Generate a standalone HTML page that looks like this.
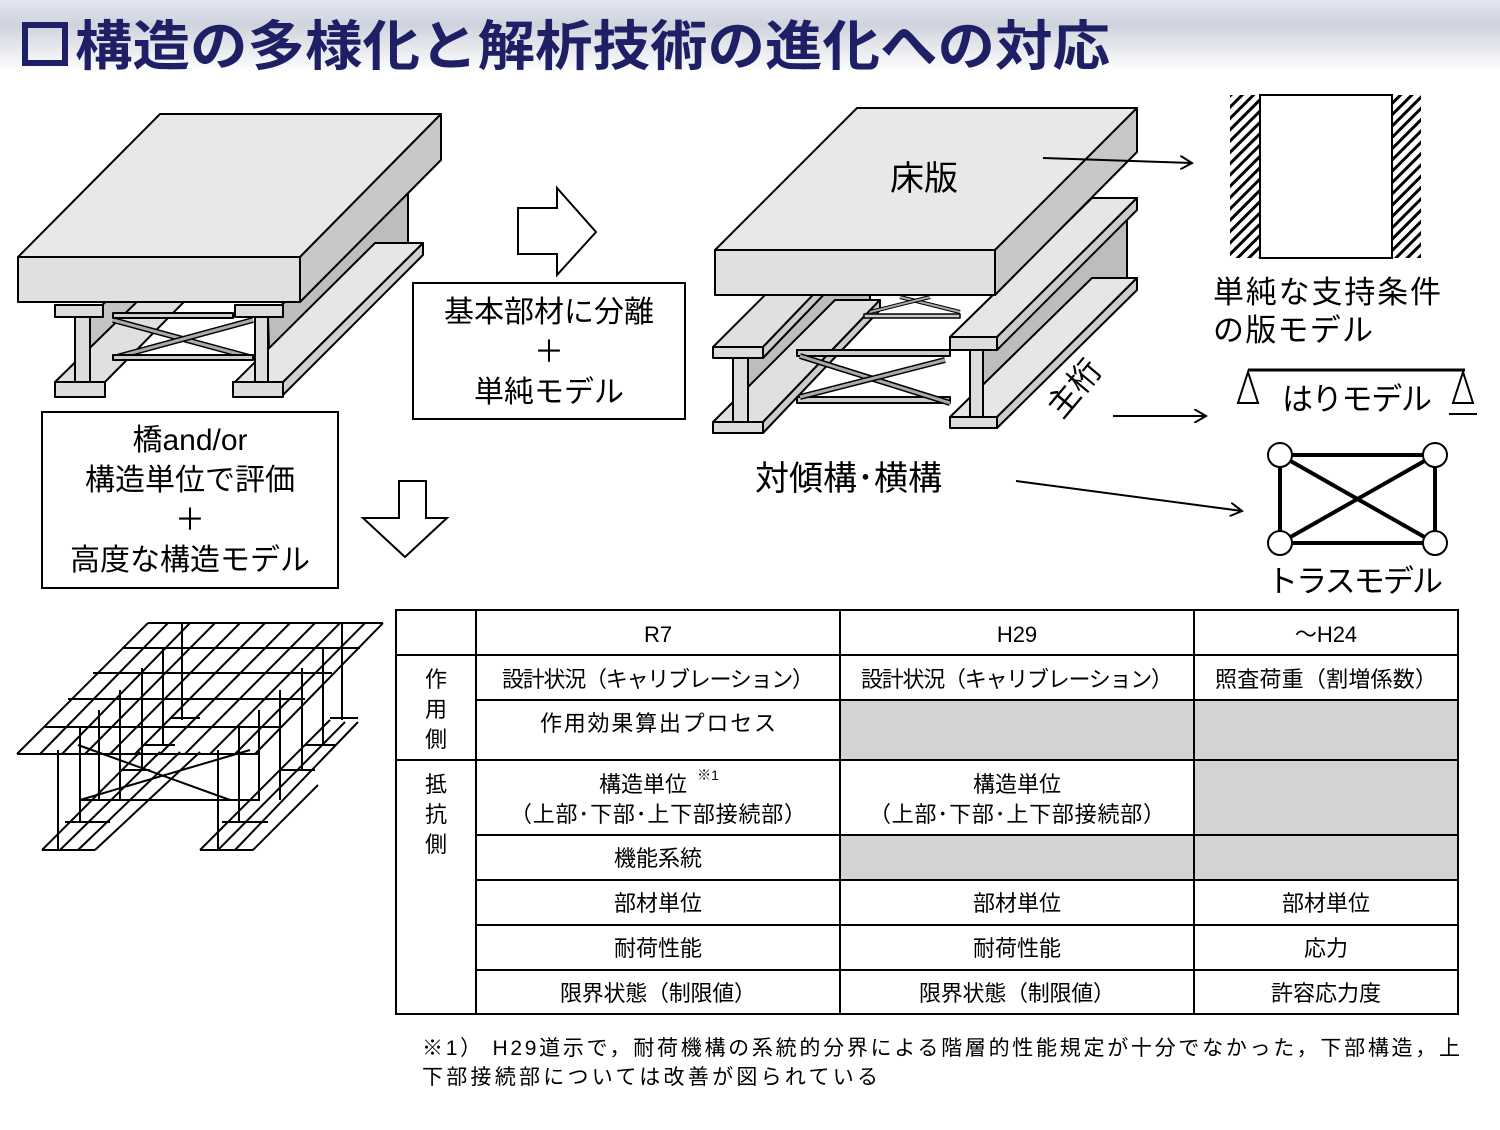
<!DOCTYPE html>
<html><head><meta charset="utf-8"><style>
body{margin:0;width:1500px;height:1125px;overflow:hidden;background:#fff;}
svg text{font-family:"Liberation Sans","Noto Sans CJK JP",sans-serif;}
</style></head><body>
<svg width="1500" height="1125" viewBox="0 0 1500 1125" xmlns="http://www.w3.org/2000/svg">
<defs>
<linearGradient id="tg" x1="0" y1="0" x2="0" y2="1">
<stop offset="0" stop-color="#e4e6f4"/><stop offset="0.35" stop-color="#cfd3dc"/><stop offset="1" stop-color="#ffffff"/></linearGradient>
<pattern id="hatch" width="8" height="8" patternUnits="userSpaceOnUse" patternTransform="rotate(45)">
<rect width="8" height="8" fill="#fff"/><rect width="3" height="8" fill="#000"/></pattern>
<marker id="ah" markerWidth="14" markerHeight="14" refX="12" refY="7" orient="auto" markerUnits="userSpaceOnUse">
<path d="M0,0 L12,7 L0,14" fill="none" stroke="#000" stroke-width="2"/></marker>
</defs>
<rect x="0" y="0" width="1500" height="72" fill="url(#tg)"/>
<rect x="25" y="25" width="40" height="38" fill="none" stroke="#1f1f66" stroke-width="6"/>
<text x="75" y="65" font-size="54" font-weight="bold" fill="#1f1f66" textLength="1035" lengthAdjust="spacingAndGlyphs">構造の多様化と解析技術の進化への対応</text>

<!-- Left bridge -->
<g stroke="#000" stroke-width="2" stroke-linejoin="round">
<polygon points="268,317 408,193 408,253 270,382" fill="#bdbdbd"/>
<polygon points="283,382 423,243 423,255 283,395" fill="#d0d0d0"/>
<polygon points="235,382 375,243 423,243 283,382" fill="#e6e6e6"/>
<polygon points="90,316 230,190 230,260 90,382" fill="#c4c4c4"/>
<polygon points="55,382 195,245 240,245 105,382" fill="#e0e0e0"/>
<rect x="55" y="382" width="50" height="15" fill="#dcdcdc"/>
<rect x="75" y="316" width="15" height="66" fill="#dcdcdc"/>
<rect x="55" y="305" width="48" height="12" fill="#dcdcdc"/>
<line x1="113" y1="320" x2="253" y2="358" stroke-width="6"/><line x1="113" y1="320" x2="253" y2="358" stroke="#aaa" stroke-width="3"/>
<line x1="113" y1="358" x2="253" y2="320" stroke-width="6"/><line x1="113" y1="358" x2="253" y2="320" stroke="#aaa" stroke-width="3"/>
<rect x="113" y="355" width="140" height="5" fill="#ccc"/>
<rect x="113" y="313" width="120" height="5" fill="#ccc"/>
<rect x="233" y="382" width="50" height="15" fill="#dcdcdc"/>
<rect x="255" y="316" width="13" height="66" fill="#dcdcdc"/>
<rect x="235" y="305" width="48" height="12" fill="#dcdcdc"/>
<polygon points="18,257 160,114 441,114 300,257" fill="#e8e8e8"/>
<rect x="18" y="257" width="282" height="45" fill="#e0e0e0"/>
<polygon points="300,257 441,114 441,160 300,302" fill="#c8c8c8"/>
</g>

<!-- Middle bridge -->
<g stroke="#000" stroke-width="2" stroke-linejoin="round">
<polygon points="748,358 870,236 870,300 748,425" fill="#bdbdbd"/>
<polygon points="713,422 835,300 880,300 763,422" fill="#e0e0e0"/>
<polygon points="763,422 880,300 880,310 763,433" fill="#ccc"/>
<polygon points="713,347 835,225 880,225 763,347" fill="#e0e0e0"/>
<polygon points="763,347 880,225 880,236 763,358" fill="#ccc"/>
<rect x="713" y="347" width="50" height="11" fill="#dcdcdc"/>
<rect x="733" y="358" width="15" height="64" fill="#dcdcdc"/>
<rect x="713" y="422" width="50" height="11" fill="#dcdcdc"/>
<rect x="864" y="314" width="96" height="4" fill="#ccc" stroke-width="1.5"/>
<line x1="900" y1="297" x2="960" y2="312" stroke-width="4"/><line x1="900" y1="297" x2="960" y2="312" stroke="#aaa" stroke-width="2"/>
<line x1="870" y1="312" x2="930" y2="297" stroke-width="4"/><line x1="870" y1="312" x2="930" y2="297" stroke="#aaa" stroke-width="2"/>
<rect x="797" y="350" width="153" height="6" fill="#ccc"/>
<rect x="797" y="397" width="153" height="6" fill="#ccc"/>
<line x1="800" y1="356" x2="950" y2="403" stroke-width="6"/><line x1="800" y1="356" x2="950" y2="403" stroke="#aaa" stroke-width="3"/>
<line x1="800" y1="397" x2="945" y2="360" stroke-width="6"/><line x1="800" y1="397" x2="945" y2="360" stroke="#aaa" stroke-width="3"/>
<polygon points="983,350 1127,213 1127,280 983,415" fill="#bdbdbd"/>
<polygon points="950,417 1092,278 1137,278 997,417" fill="#e6e6e6"/>
<polygon points="997,417 1137,278 1137,290 997,428" fill="#ccc"/>
<rect x="950" y="417" width="47" height="11" fill="#dcdcdc"/>
<rect x="970" y="350" width="13" height="67" fill="#dcdcdc"/>
<polygon points="950,337 1092,198 1137,198 997,337" fill="#e6e6e6"/>
<polygon points="997,337 1137,198 1137,210 997,350" fill="#ccc"/>
<rect x="950" y="337" width="47" height="13" fill="#dcdcdc"/>
<polygon points="715,250 857,108 1137,108 995,250" fill="#e8e8e8"/>
<rect x="715" y="250" width="280" height="45" fill="#e0e0e0"/>
<polygon points="995,250 1137,108 1137,152 995,295" fill="#c8c8c8"/>
</g>
<text x="890" y="190" font-size="34">床版</text>
<text x="0" y="0" font-size="32" transform="translate(1062,420) rotate(-50)">主桁</text>
<text x="755" y="490" font-size="34">対傾構･横構</text>

<!-- arrows -->
<g stroke="#000" stroke-width="2" fill="none">
<line x1="1043" y1="158" x2="1192" y2="163" marker-end="url(#ah)"/>
<line x1="1113" y1="416" x2="1206" y2="416" marker-end="url(#ah)"/>
<line x1="1016" y1="481" x2="1242" y2="511" marker-end="url(#ah)"/>
<polygon points="518,208 557,208 557,188 596,232 557,275 557,254 518,254" fill="#fff"/>
<polygon points="399,481 426,481 426,518 447,518 405,557 363,518 399,518" fill="#fff"/>
<rect x="413" y="283" width="272" height="136" fill="#fff"/>
<rect x="42" y="412" width="296" height="176" fill="#fff"/>
</g>
<g font-size="30" text-anchor="middle">
<text x="549" y="322">基本部材に分離</text>
<text x="549" y="362">＋</text>
<text x="549" y="402">単純モデル</text>
<text x="190" y="450">橋and/or</text>
<text x="190" y="490">構造単位で評価</text>
<text x="190" y="530">＋</text>
<text x="190" y="570">高度な構造モデル</text>
</g>

<!-- slab model -->
<rect x="1230" y="95" width="30" height="163" fill="url(#hatch)"/>
<rect x="1392" y="95" width="29" height="163" fill="url(#hatch)"/>
<rect x="1260" y="95" width="132" height="163" fill="#fff" stroke="#000" stroke-width="2"/>
<text x="1213" y="303" font-size="31" textLength="228">単純な支持条件</text>
<text x="1213" y="341" font-size="31" textLength="160">の版モデル</text>
<!-- beam -->
<g stroke="#000" fill="#fff" stroke-width="2">
<line x1="1248" y1="370" x2="1465" y2="370" stroke-width="3"/>
<polygon points="1248,372 1238,403 1258,403"/>
<polygon points="1463,372 1453,403 1473,403"/>
<line x1="1449" y1="414" x2="1477" y2="414"/>
</g>
<text x="1282" y="410" font-size="31" textLength="150">はりモデル</text>
<!-- truss -->
<g stroke="#000" stroke-width="4" fill="#fff">
<line x1="1280" y1="455" x2="1435" y2="455"/><line x1="1280" y1="543" x2="1435" y2="543"/>
<line x1="1280" y1="455" x2="1280" y2="543"/><line x1="1435" y1="455" x2="1435" y2="543"/>
<line x1="1280" y1="455" x2="1435" y2="543"/><line x1="1280" y1="543" x2="1435" y2="455"/>
<g stroke-width="2"><circle cx="1280" cy="455" r="12"/><circle cx="1435" cy="455" r="12"/><circle cx="1280" cy="543" r="12"/><circle cx="1435" cy="543" r="12"/></g>
</g>
<text x="1267" y="592" font-size="31" textLength="176">トラスモデル</text>

<!-- mesh -->
<g stroke="#000" stroke-width="2" fill="none">
<line x1="148" y1="623" x2="383" y2="623"/><line x1="122" y1="648" x2="360" y2="648"/>
<line x1="93" y1="673" x2="332" y2="673"/><line x1="68" y1="699" x2="305" y2="699"/>
<line x1="45" y1="727" x2="280" y2="727"/><line x1="17" y1="754" x2="260" y2="754"/>
<line x1="148" y1="623" x2="17" y2="754"/><line x1="168" y1="623" x2="40" y2="754"/>
<line x1="190" y1="623" x2="62" y2="754"/><line x1="215" y1="623" x2="85" y2="754"/>
<line x1="240" y1="623" x2="110" y2="754"/><line x1="265" y1="623" x2="135" y2="754"/>
<line x1="290" y1="623" x2="160" y2="754"/><line x1="315" y1="623" x2="185" y2="754"/>
<line x1="340" y1="623" x2="210" y2="754"/><line x1="365" y1="623" x2="235" y2="754"/>
<line x1="383" y1="623" x2="255" y2="754"/>
<line x1="182" y1="623" x2="182" y2="720"/><line x1="342" y1="623" x2="342" y2="720"/>
<line x1="163" y1="648" x2="163" y2="745"/><line x1="323" y1="648" x2="323" y2="745"/>
<line x1="142" y1="668" x2="142" y2="770"/><line x1="302" y1="668" x2="302" y2="770"/>
<line x1="120" y1="690" x2="120" y2="800"/><line x1="280" y1="690" x2="280" y2="800"/>
<line x1="99" y1="710" x2="99" y2="800"/><line x1="259" y1="710" x2="259" y2="800"/>
<line x1="80" y1="727" x2="80" y2="822"/><line x1="239" y1="727" x2="239" y2="822"/>
<line x1="58" y1="750" x2="58" y2="850"/><line x1="218" y1="750" x2="218" y2="850"/>
<line x1="78" y1="745" x2="230" y2="800"/><line x1="80" y1="800" x2="250" y2="750"/>
<line x1="80" y1="800" x2="260" y2="800"/>
<line x1="42" y1="850" x2="95" y2="850"/><line x1="200" y1="850" x2="253" y2="850"/>
<line x1="65" y1="822" x2="110" y2="822"/><line x1="222" y1="822" x2="268" y2="822"/>
<line x1="42" y1="850" x2="140" y2="752"/><line x1="60" y1="850" x2="160" y2="752"/><line x1="78" y1="850" x2="180" y2="752"/><line x1="95" y1="850" x2="200" y2="752"/>
<line x1="200" y1="850" x2="330" y2="720"/><line x1="218" y1="850" x2="345" y2="722"/><line x1="235" y1="850" x2="358" y2="722"/><line x1="253" y1="850" x2="318" y2="785"/>
<line x1="145" y1="745" x2="175" y2="745"/><line x1="170" y1="718" x2="200" y2="718"/>
<line x1="305" y1="745" x2="335" y2="745"/><line x1="330" y1="718" x2="358" y2="718"/>
<line x1="280" y1="770" x2="315" y2="770"/><line x1="120" y1="770" x2="150" y2="770"/>
</g>

<!-- table -->
<g fill="#d3d3d3">
<rect x="840" y="700" width="618" height="60"/>
<rect x="1194" y="760" width="264" height="75"/>
<rect x="840" y="835" width="618" height="45"/>
</g>
<g stroke="#000" stroke-width="2" fill="none">
<rect x="396" y="610" width="1062" height="404"/>
<line x1="476" y1="610" x2="476" y2="1014"/><line x1="840" y1="610" x2="840" y2="1014"/><line x1="1194" y1="610" x2="1194" y2="1014"/>
<line x1="396" y1="655" x2="1458" y2="655"/><line x1="476" y1="700" x2="1458" y2="700"/>
<line x1="396" y1="760" x2="1458" y2="760"/><line x1="476" y1="835" x2="1458" y2="835"/>
<line x1="476" y1="880" x2="1458" y2="880"/><line x1="476" y1="925" x2="1458" y2="925"/><line x1="476" y1="970" x2="1458" y2="970"/>
</g>
<g font-size="22" text-anchor="middle">
<text x="658" y="642">R7</text><text x="1017" y="642">H29</text><text x="1326" y="642">～H24</text>
<text x="436" y="687">作</text><text x="436" y="717">用</text><text x="436" y="747">側</text>
<text x="436" y="792">抵</text><text x="436" y="822">抗</text><text x="436" y="852">側</text>
<text x="658" y="687" textLength="312">設計状況（キャリブレーション）</text>
<text x="1017" y="687" textLength="312">設計状況（キャリブレーション）</text>
<text x="1326" y="687" textLength="222">照査荷重（割増係数）</text>
<text x="658" y="731" textLength="236">作用効果算出プロセス</text>
<text x="643" y="792">構造単位</text><text x="708" y="780" font-size="14">※1</text>
<text x="658" y="822" textLength="296">（上部･下部･上下部接続部）</text>
<text x="1017" y="792">構造単位</text>
<text x="1017" y="822" textLength="296">（上部･下部･上下部接続部）</text>
<text x="658" y="866">機能系統</text>
<text x="658" y="911">部材単位</text><text x="1017" y="911">部材単位</text><text x="1326" y="911">部材単位</text>
<text x="658" y="956">耐荷性能</text><text x="1017" y="956">耐荷性能</text><text x="1326" y="956">応力</text>
<text x="658" y="1001" textLength="196">限界状態（制限値）</text><text x="1017" y="1001" textLength="196">限界状態（制限値）</text><text x="1326" y="1001">許容応力度</text>
</g>
<text x="422" y="1055" font-size="21" textLength="1038">※1） H29道示で，耐荷機構の系統的分界による階層的性能規定が十分でなかった，下部構造，上</text>
<text x="422" y="1084" font-size="21" textLength="456">下部接続部については改善が図られている</text>
</svg>
</body></html>
